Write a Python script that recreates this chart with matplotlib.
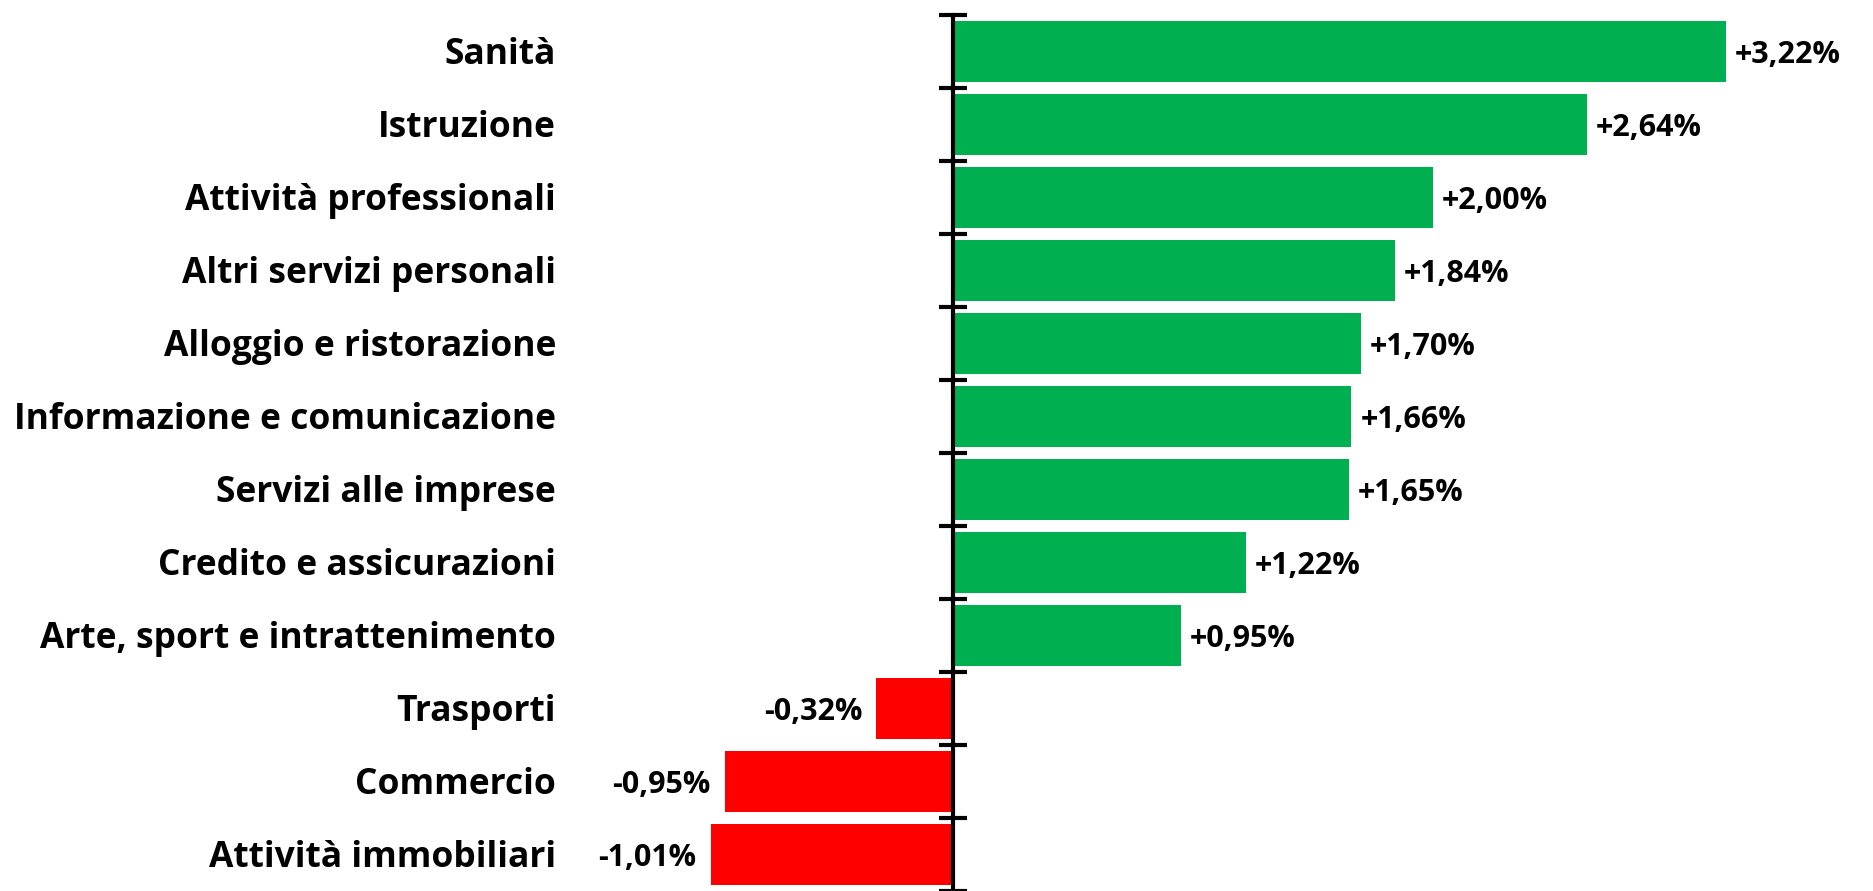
import matplotlib.pyplot as plt

categories = ["Sanità", "Istruzione", "Attività professionali", "Altri servizi personali",
              "Alloggio e ristorazione", "Informazione e comunicazione", "Servizi alle imprese",
              "Credito e assicurazioni", "Arte, sport e intrattenimento", "Trasporti",
              "Commercio", "Attività immobiliari"]
values = [3.22, 2.64, 2.00, 1.84, 1.70, 1.66, 1.65, 1.22, 0.95, -0.32, -0.95, -1.01]

W, H = 1874, 891
px_per_unit = 240.0
zero_px = 953
top_px = 15
row_px = 73.5
dy = 4 / row_px   # text sits a little below bar centre

fig = plt.figure(figsize=(W / 100, H / 100), dpi=100)
ax = fig.add_axes([0, 0, 1, 1])
ax.set_xlim(-zero_px / px_per_unit, (W - zero_px) / px_per_unit)
n = len(categories)
ax.set_ylim(n - 0.5 - (top_px + row_px * n - H) / row_px, -0.5 - top_px / row_px)

font = "Open Sans"
colors = ["#00B050" if v >= 0 else "#FF0000" for v in values]
ypos = list(range(n))
ax.barh(ypos, values, height=0.84, color=colors, zorder=2)

for y, v, name in zip(ypos, values, categories):
    lab = ("+" if v >= 0 else "") + f"{v:.2f}".replace(".", ",") + "%"
    if v >= 0:
        ax.text(v + 9 / px_per_unit, y + dy, lab, ha="left", va="center",
                fontsize=22, fontweight="bold", family=font)
    else:
        ax.text(v - 14 / px_per_unit, y + dy, lab, ha="right", va="center",
                fontsize=22, fontweight="bold", family=font)
    ax.text(-(zero_px - 556) / px_per_unit, y + dy, name, ha="right", va="center",
            fontsize=25.5, fontweight="bold", family=font)

for s in ["top", "right", "bottom"]:
    ax.spines[s].set_visible(False)
ax.spines["left"].set_position(("data", 0))
ax.spines["left"].set_linewidth(3)
ax.spines["left"].set_bounds(-0.5, n + 1)
ax.spines["left"].set_zorder(3)
ax.set_yticks([i - 0.5 for i in range(n + 1)])
ax.tick_params(axis="y", direction="inout", length=20, width=3, labelleft=False)
ax.set_xticks([])

fig.savefig("out.png", dpi=100)
